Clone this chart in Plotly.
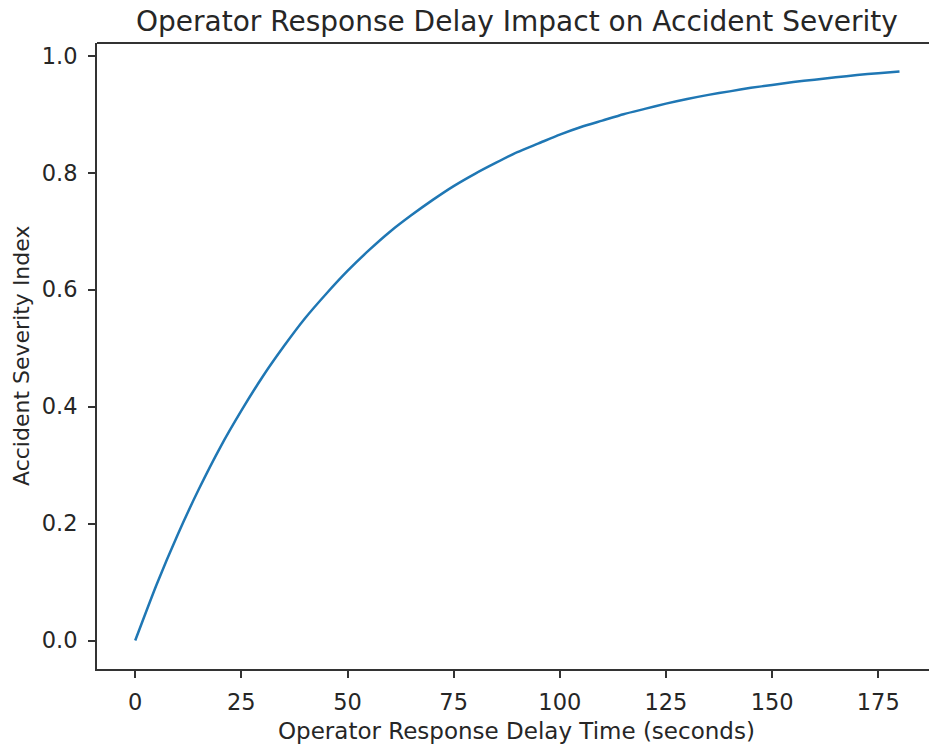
import plotly.graph_objects as go

# Operator response delay (seconds) and read-off severity index
delay_seconds = [0, 5, 10, 15, 20, 25, 30, 35, 40, 45, 50, 55, 60, 65, 70, 75, 80, 85, 90,
                 95, 100, 105, 110, 115, 120, 125, 130, 135, 140, 145, 150, 155, 160, 165,
                 170, 175, 180]
severity_index = [0.000, 0.095, 0.181, 0.259, 0.330, 0.393, 0.451, 0.503, 0.551, 0.593,
                  0.632, 0.667, 0.699, 0.727, 0.753, 0.777, 0.798, 0.817, 0.835, 0.850,
                  0.865, 0.878, 0.889, 0.900, 0.909, 0.918, 0.926, 0.933, 0.939, 0.945,
                  0.950, 0.955, 0.959, 0.963, 0.967, 0.970, 0.973]

x_ticks = [0, 25, 50, 75, 100, 125, 150, 175]
y_ticks = [0.0, 0.2, 0.4, 0.6, 0.8, 1.0]
y_tick_labels = ["0.0", "0.2", "0.4", "0.6", "0.8", "1.0"]

title_text = "Operator Response Delay Impact on Accident Severity"
x_label = "Operator Response Delay Time (seconds)"
y_label = "Accident Severity Index"

W, H = 929, 746
ML, MR, MT, MB = 97, 0, 43, 77
plot_w = W - ML - MR
plot_h = H - MT - MB

font_family = "DejaVu Sans"
spine_color = "#333333"
text_color = "#262626"

fig = go.Figure()
fig.add_trace(go.Scatter(
    x=delay_seconds, y=severity_index, mode="lines",
    line=dict(color="#1f77b4", width=2.5, shape="spline", smoothing=0.6),
    showlegend=False, hoverinfo="x+y",
))

px_per_sec = 4.246
x0 = -9.0
x1 = x0 + plot_w / px_per_sec

fig.update_layout(
    width=W, height=H,
    margin=dict(l=ML, r=MR, t=MT, b=MB, pad=0),
    paper_bgcolor="white", plot_bgcolor="white",
    font=dict(family=font_family, size=22, color=text_color),
    xaxis=dict(
        range=[x0, x1], tickvals=x_ticks, ticktext=[str(v) for v in x_ticks],
        showgrid=False, zeroline=False, showline=True, linecolor=spine_color, linewidth=1.8,
        ticks="outside", ticklen=7, tickwidth=1.5, tickcolor=spine_color,
        tickfont=dict(size=22.5, color=text_color), ticklabelstandoff=5,
    ),
    yaxis=dict(
        range=[-0.0487, 1.0217], tickvals=y_ticks, ticktext=y_tick_labels,
        showgrid=False, zeroline=False, showline=True, linecolor=spine_color, linewidth=1.8,
        ticks="outside", ticklen=7, tickwidth=1.5, tickcolor=spine_color,
        tickfont=dict(size=22.5, color=text_color), ticklabelstandoff=6,
    ),
    shapes=[dict(type="line", xref="paper", yref="paper", x0=0, x1=1, y0=1, y1=1,
                 line=dict(color=spine_color, width=1.8))],
    annotations=[
        dict(text=title_text, xref="paper", yref="paper",
             x=(517 - ML) / plot_w, y=1 + 22 / plot_h, xanchor="center", yanchor="middle",
             showarrow=False, font=dict(size=28, color=text_color, family=font_family)),
        dict(text=x_label, xref="paper", yref="paper",
             x=(516 - ML) / plot_w, y=-62 / plot_h, xanchor="center", yanchor="middle",
             showarrow=False, font=dict(size=23, color=text_color, family=font_family)),
        dict(text=y_label, xref="paper", yref="paper", textangle=-90,
             x=(21 - ML) / plot_w, y=0.5, xanchor="center", yanchor="middle",
             showarrow=False, font=dict(size=22, color=text_color, family=font_family)),
    ],
)

fig.write_html(
    "out.html",
    config={"displayModeBar": False},
    post_script="document.body.style.margin='0px';document.body.style.overflow='hidden';",
)
